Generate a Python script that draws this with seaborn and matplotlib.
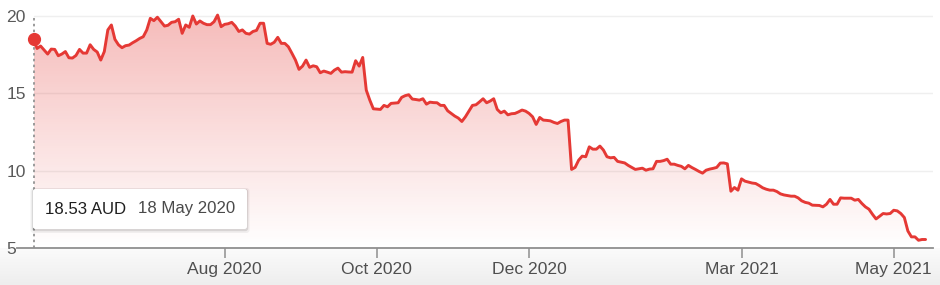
import numpy as np
import pandas as pd
import matplotlib
matplotlib.use("Agg")
import matplotlib.pyplot as plt
import seaborn as sns
from matplotlib.patches import FancyBboxPatch
from matplotlib.colors import LinearSegmentedColormap
from matplotlib.transforms import IdentityTransform

# ---------------- data ----------------
start_date = "2020-05-18"
currency = "AUD"
asx_holidays = ["2020-06-08", "2020-12-25", "2020-12-28", "2021-01-01",
                "2021-01-26", "2021-04-02", "2021-04-05"]
price = [
    18.53, 17.90, 18.06, 17.80, 17.54, 17.86, 17.84, 17.43, 17.54, 17.70,
    17.30, 17.28, 17.45, 17.84, 17.60, 17.60, 18.14, 17.84, 17.67, 17.15,
    17.70, 19.10, 19.42, 18.49, 18.14, 17.95, 18.08, 18.12, 18.27, 18.40,
    18.55, 18.66, 19.10, 19.85, 19.70, 19.92, 19.63, 19.35, 19.40, 19.59,
    19.63, 19.79, 18.88, 19.42, 19.27, 20.00, 19.48, 19.68, 19.53, 19.44,
    19.44, 19.63, 20.06, 19.31, 19.46, 19.50, 19.59, 19.35, 19.00, 19.10,
    18.88, 18.83, 19.00, 19.07, 19.53, 19.53, 18.23, 18.17, 18.30, 18.62,
    18.23, 18.23, 18.01, 17.59, 17.15, 16.55, 16.76, 17.15, 16.68, 16.78,
    16.72, 16.33, 16.44, 16.37, 16.29, 16.50, 16.63, 16.37, 16.40, 16.38,
    16.37, 17.11, 16.76, 17.32, 15.21, 14.56, 14.00, 13.98, 13.96, 14.22,
    14.13, 14.35, 14.37, 14.39, 14.74, 14.85, 14.91, 14.63, 14.60, 14.56,
    14.65, 14.30, 14.43, 14.40, 14.39, 14.22, 14.22, 13.87, 13.70, 13.53,
    13.40, 13.18, 13.48, 13.85, 14.22, 14.26, 14.45, 14.65, 14.39, 14.50,
    14.65, 13.96, 13.74, 13.85, 13.61, 13.68, 13.70, 13.80, 13.92, 13.85,
    13.70, 13.48, 12.99, 13.44, 13.27, 13.25, 13.22, 13.12, 13.05, 13.18,
    13.27, 13.27, 10.08, 10.21, 10.68, 10.94, 10.90, 11.54, 11.39, 11.39,
    11.59, 11.33, 10.90, 10.83, 10.86, 10.60, 10.55, 10.50, 10.34, 10.21,
    10.08, 10.12, 10.16, 10.03, 10.10, 10.12, 10.60, 10.60, 10.65, 10.74,
    10.42, 10.42, 10.34, 10.28, 10.12, 10.34, 10.20, 10.08, 9.95, 9.84,
    10.03, 10.10, 10.15, 10.21, 10.49, 10.50, 10.44, 8.67, 8.91, 8.74,
    9.47, 9.32, 9.26, 9.20, 9.17, 9.04, 8.89, 8.80, 8.74, 8.74,
    8.65, 8.50, 8.43, 8.39, 8.35, 8.35, 8.24, 8.05, 7.95, 7.90,
    7.77, 7.76, 7.75, 7.66, 7.83, 8.14, 7.83, 7.83, 8.24, 8.22,
    8.22, 8.22, 8.09, 8.14, 7.88, 7.66, 7.51, 7.18, 6.88, 7.05,
    7.23, 7.20, 7.23, 7.44, 7.40, 7.23, 6.97, 6.10, 5.72, 5.72,
    5.50, 5.55, 5.55,
]
tick_months = ["2020-08", "2020-10", "2020-12", "2021-03", "2021-05"]
y_ticks = [5, 10, 15, 20]

# ---------------- frame ----------------
dates = pd.bdate_range(start=start_date, periods=len(price), freq="C",
                       holidays=asx_holidays)
df = pd.DataFrame({"date": dates, "session": np.arange(len(price)), "price": price})

tick_pos, tick_lab = [], []
for m in tick_months:
    p = pd.Period(m)
    idx = df.index[df["date"] >= p.start_time][0]
    tick_pos.append(df.loc[idx, "session"])
    tick_lab.append(p.strftime("%b %Y"))

# ---------------- style ----------------
sns.set_theme(style="white")
plt.rcParams["font.family"] = ["Liberation Sans", "DejaVu Sans"]

W, H = 940, 285
fig = plt.figure(figsize=(W / 100, H / 100), dpi=100)
fig.patch.set_facecolor("white")

# light gradient band below the axis
bg = fig.add_axes([0, 0, 1, 37 / H], zorder=-1)
bg_cmap = LinearSegmentedColormap.from_list("bg", ["#eeeeee", "#fbfbfb"])
bg.imshow(np.linspace(0, 1, 64).reshape(-1, 1), cmap=bg_cmap, aspect="auto",
          origin="lower", extent=[0, 1, 0, 1])
bg.set_axis_off()

ax_l, ax_r, ax_b, ax_t = 17, 933, 248, 11
ax = fig.add_axes([ax_l / W, 1 - ax_b / H, (ax_r - ax_l) / W, (ax_b - ax_t) / H])
ax.set_facecolor("none")

px_per_day = 3.54
x0_px = 33.5
xmin = -(x0_px - ax_l) / px_per_day
xmax = (ax_r - x0_px) / px_per_day
ymin, ymax = 5, 20 + (16 - ax_t) / 15.47

red = "#e53935"

# gridlines
grid_start = (x0_px - ax_l) / (ax_r - ax_l)
for yv in y_ticks[1:]:
    ax.axhline(yv, xmin=grid_start, xmax=1, color="#efefef", lw=1.0, zorder=0)

# gradient fill under line
poly = ax.fill_between(df["session"], df["price"], ymin, color="none", lw=0)
cmap = LinearSegmentedColormap.from_list(
    "grad", [(0.898, 0.224, 0.208, 0.0), (0.898, 0.224, 0.208, 0.34)])
grad = np.linspace(0, 1, 256).reshape(-1, 1)
im = ax.imshow(grad, cmap=cmap, aspect="auto", origin="lower",
               extent=[df["session"].min(), df["session"].max(), ymin, 20.0],
               zorder=1, interpolation="bilinear")
im.set_clip_path(poly.get_paths()[0], transform=ax.transData)

# line
sns.lineplot(data=df, x="session", y="price", ax=ax, color=red, lw=2.1,
             zorder=3, legend=False)

# dotted cursor line + marker
ax.plot([df["session"][0], df["session"][0]], [ymin, 20], color="#9a9a9a",
        lw=1.4, ls=(0, (1.3, 1.7)), zorder=2)
ax.plot([df["session"][0]], [df["price"][0]], "o", color=red, ms=8.5,
        zorder=5, clip_on=False)

ax.set_xlim(xmin, xmax)
ax.set_ylim(ymin, ymax)

# axes styling
for s in ["top", "right", "left"]:
    ax.spines[s].set_visible(False)
ax.spines["bottom"].set_color("#8f8f8f")
ax.spines["bottom"].set_linewidth(1.3)
ax.spines["bottom"].set_zorder(4)

ax.set_xticks(tick_pos)
ax.set_xticklabels(tick_lab)
ax.tick_params(axis="x", bottom=True, length=7, width=1.1, color="#8f8f8f", pad=3,
               labelsize=12.6, labelcolor="#4f4f4f", direction="out")
ax.set_yticks(y_ticks)
ax.set_yticklabels([str(v) for v in y_ticks])
ax.tick_params(axis="y", left=False, length=0, pad=7.5, labelsize=12.6,
               labelcolor="#5a5a5a")
for lab in ax.get_yticklabels():
    lab.set_horizontalalignment("left")
ax.set_xlabel("")
ax.set_ylabel("")
ax.grid(False)

# tooltip box (pixel coordinates, origin bottom-left)
bx, by_top, bw, bh = 33, 189, 214, 40
by = H - by_top - bh
tr = IdentityTransform()
for grow, alpha, dy in [(2.5, 0.05, -1.5), (1.2, 0.10, -1.0)]:
    fig.patches.append(FancyBboxPatch((bx - grow, by - grow + dy), bw + 2 * grow, bh + 2 * grow,
                                      boxstyle="round,pad=0,rounding_size=3",
                                      transform=tr, facecolor=(0, 0, 0, alpha),
                                      edgecolor="none", zorder=6))
fig.patches.append(FancyBboxPatch((bx, by), bw, bh,
                                  boxstyle="round,pad=0,rounding_size=2.5",
                                  transform=tr, facecolor="white",
                                  edgecolor="none", zorder=7))
cy = H - 209
fig.text(45 / W, cy / H, f"{price[0]:.2f} {currency}", fontsize=12.1,
         color="#1f1f1f", va="center", ha="left", zorder=8)
fig.text(138 / W, cy / H, dates[0].strftime("%-d %b %Y"),
         fontsize=12.1, color="#4a4a4a", va="center", ha="left", zorder=8)

fig.savefig("out.png", dpi=100, facecolor=fig.get_facecolor())
